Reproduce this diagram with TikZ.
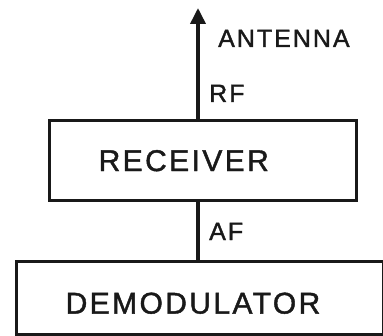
\documentclass[tikz,border=0pt]{standalone}
\usepackage{fontspec}
\setmainfont{Liberation Sans}[LetterSpace=8, FakeBold=1.4]
\usetikzlibrary{arrows.meta}
\definecolor{ink}{RGB}{25,25,25}
\tikzset{
  box/.style={rectangle, draw=ink, line width=3.4pt, anchor=north west,
    align=left, inner xsep=49pt, font=\fontsize{30}{36}\selectfont, text=ink},
  tag/.style={anchor=base west, inner sep=0pt,
    font=\fontsize{25}{30}\selectfont, text=ink},
  sig/.style={-{Triangle[length=16pt,width=15pt]}, line width=3.6pt, color=ink},
  wire/.style={line width=3.6pt, color=ink}
}
\begin{document}
\begin{tikzpicture}[x=1pt,y=1pt]
  \useasboundingbox (0,0) rectangle (383,335);

  % Blocks
  \node[box, text width=209pt, minimum height=80pt] (rcv) at (48,216) {RECEIVER};
  \node[box, text width=269pt, minimum height=73pt, text height=31pt] (dem) at (15,75) {DEMODULATOR};

  % Antenna lead and audio line
  \coordinate (ant) at (198,327);
  \draw[sig] (rcv.north -| ant) -- (ant);
  \draw[wire] (dem.north -| ant) -- (rcv.south -| ant);

  % Labels
  \node[tag] (antlbl) at (218,288) {ANTENNA};
  \node[tag] (rflbl) at (209,233) {RF};
  \node[tag] (aflbl) at (209,95) {AF};
\end{tikzpicture}
\end{document}
